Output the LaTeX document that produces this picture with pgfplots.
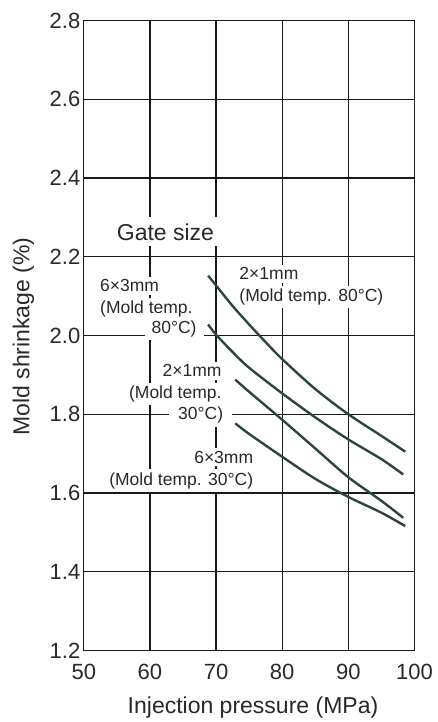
\documentclass[border=0pt]{standalone}
\usepackage{fontspec}
\setmainfont{Liberation Sans}
\usepackage{pgfplots}
\pgfplotsset{compat=1.18}
\definecolor{curve}{RGB}{45,70,60}
\definecolor{ink}{RGB}{40,40,45}
\begin{document}
\begin{tikzpicture}[
  lbl/.style={fill=white, inner xsep=5pt, inner ysep=3pt, text=ink,
    font=\fontsize{17.5}{20}\selectfont},
  lw/.style={lbl, anchor=base west, xshift=-5pt},
  le/.style={lbl, anchor=base east, xshift=5pt}]
\useasboundingbox (-83.8pt,-71.5pt) rectangle (353.2pt,650.5pt);
\begin{axis}[
  scale only axis, width=330.7pt, height=630pt,
  xmin=50, xmax=100, ymin=1.2, ymax=2.8,
  xtick={50,60,70,80,90,100},
  ytick={1.2,1.4,1.6,1.8,2.0,2.2,2.4,2.6,2.8},
  yticklabels={1.2,1.4,1.6,1.8,2.0,2.2,2.4,2.6,2.8},
  major tick length=0pt,
  grid=major,
  grid style={black!90, line width=1.4pt},
  axis line style={black!90, line width=1.4pt},
  /pgf/number format/assume math mode=true,
  tick label style={text=ink, font=\fontsize{22}{26}\selectfont},
  xticklabel style={anchor=base, yshift=-28.5pt},
  label style={text=ink, font=\fontsize{23}{27}\selectfont},
  xlabel={Injection pressure (MPa)},
  ylabel={Mold shrinkage (\%)},
  xlabel style={at={(axis description cs:0.5116,-0.1)}, anchor=base},
  ylabel style={at={(axis description cs:-0.1642,0.4984)}, rotate=0, anchor=base},
]
% labels with white boxes, drawn over the grid
\node[lw, font=\fontsize{23}{27}\selectfont, inner ysep=6pt] at (axis cs:54.97,2.2425) {Gate size};

\node[lw] at (axis cs:52.45,2.111) {6×3mm};
\node[lw] at (axis cs:52.45,2.056) {(Mold temp.};
\node[le, inner xsep=7pt, xshift=2pt] at (axis cs:67.07,2.006) {80°C)};

\node[le] at (axis cs:70.85,1.895) {2×1mm};
\node[le] at (axis cs:70.85,1.8405) {(Mold temp.};
\node[le, inner xsep=9pt, xshift=4pt] at (axis cs:71.09,1.7854) {30°C)};

\node[le] at (axis cs:75.63,1.6754) {6×3mm};
\node[le] at (axis cs:75.63,1.6203) {(Mold temp. 30°C)};

\node[lw] at (axis cs:73.51,2.141) {2×1mm};
\node[lw] at (axis cs:73.51,2.0858) {(Mold temp. 80°C)};

% 2x1mm, mold temp. 80 C
\addplot[curve, line width=2.4pt, smooth] coordinates {
(68.8,2.152) (70,2.127) (72.5,2.075) (75,2.028) (77.5,1.983) (80,1.940)
(85,1.864) (90,1.800) (95,1.745) (98.6,1.705)
};
% 6x3mm, mold temp. 80 C
\addplot[curve, line width=2.4pt, smooth] coordinates {
(68.8,2.028) (70,2.002) (72.5,1.958) (75,1.918) (80,1.853)
(85,1.792) (90,1.736) (95,1.686) (98.3,1.647)
};
% 2x1mm, mold temp. 30 C
\addplot[curve, line width=2.4pt, smooth] coordinates {
(72.9,1.888) (75,1.857) (80,1.786) (85,1.713) (90,1.640) (95,1.580) (98.3,1.537)
};
% 6x3mm, mold temp. 30 C
\addplot[curve, line width=2.4pt, smooth] coordinates {
(72.9,1.777) (75,1.750) (80,1.692) (85,1.636) (90,1.590) (95,1.550) (98.6,1.516)
};
\end{axis}
\end{tikzpicture}
\end{document}
